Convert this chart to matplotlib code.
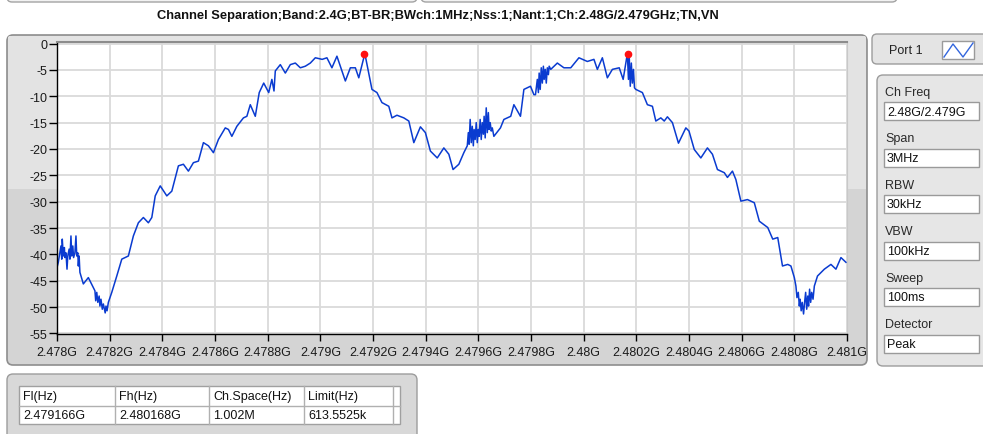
import numpy as np
import matplotlib.pyplot as plt
from matplotlib.patches import FancyBboxPatch, Rectangle

plt.rcParams['font.family'] = ['Liberation Sans', 'DejaVu Sans']

TITLE = "Channel Separation;Band:2.4G;BT-BR;BWch:1MHz;Nss:1;Nant:1;Ch:2.48G/2.479GHz;TN,VN"

# trace: offset from 2.478 GHz (MHz) and level (dB)
F_START_GHZ = 2.478
offset_mhz = [
    0.000, 0.005, 0.011, 0.015, 0.018, 0.020, 0.024, 0.028, 0.030, 0.034,
    0.038, 0.041, 0.046, 0.049, 0.053, 0.056, 0.060, 0.063, 0.068, 0.072,
    0.075, 0.079, 0.081, 0.084, 0.087, 0.100, 0.119, 0.138, 0.144, 0.147,
    0.151, 0.155, 0.160, 0.163, 0.167, 0.172, 0.176, 0.183, 0.186, 0.190,
    0.195, 0.208, 0.227, 0.246, 0.271, 0.290, 0.309, 0.328, 0.347, 0.360,
    0.373, 0.392, 0.417, 0.436, 0.461, 0.480, 0.499, 0.518, 0.537, 0.556,
    0.575, 0.594, 0.613, 0.639, 0.651, 0.664, 0.683, 0.708, 0.721, 0.734,
    0.753, 0.768, 0.785, 0.804, 0.816, 0.824, 0.829, 0.848, 0.867, 0.886,
    0.905, 0.924, 0.943, 0.962, 0.981, 1.007, 1.025, 1.044, 1.063, 1.095,
    1.114, 1.133, 1.146, 1.169,
    1.196, 1.215, 1.234, 1.260, 1.272, 1.291, 1.317, 1.336, 1.355, 1.380,
    1.399, 1.418, 1.444, 1.469, 1.488, 1.504, 1.526, 1.545, 1.558, 1.562,
    1.565, 1.569, 1.573, 1.577, 1.581, 1.584, 1.588, 1.592, 1.596, 1.600,
    1.603, 1.607, 1.611, 1.615, 1.619, 1.622, 1.626, 1.630, 1.634, 1.638,
    1.641, 1.645, 1.649, 1.653, 1.659, 1.684, 1.697, 1.723, 1.735, 1.760,
    1.773, 1.798, 1.811, 1.817, 1.824, 1.828, 1.831, 1.835, 1.839, 1.843,
    1.847, 1.850, 1.854, 1.858, 1.862, 1.866, 1.869, 1.875, 1.900, 1.925,
    1.951, 1.982, 2.014, 2.039, 2.052, 2.071, 2.090, 2.109, 2.135, 2.150,
    2.166, 2.170, 2.173, 2.177, 2.181, 2.185, 2.189, 2.193, 2.198, 2.223,
    2.242, 2.261, 2.274, 2.293,
    2.306, 2.318, 2.337, 2.360, 2.388, 2.400, 2.420, 2.445, 2.470, 2.489,
    2.508, 2.534, 2.546, 2.565, 2.578, 2.597, 2.622, 2.648, 2.667, 2.699,
    2.718, 2.737, 2.755, 2.775, 2.787, 2.800, 2.806, 2.810, 2.815, 2.819,
    2.822, 2.826, 2.830, 2.835, 2.839, 2.843, 2.847, 2.851, 2.854, 2.858,
    2.862, 2.866, 2.871, 2.876, 2.888, 2.914, 2.939, 2.958, 2.977, 2.996,
]
level_db = [
    -42.5, -41.5, -39.7, -38.4, -40.9, -37.1, -40.3, -38.7, -40.6, -39.7,
    -42.8, -40.3, -39.0, -40.9, -36.5, -40.3, -38.4, -40.6, -39.7, -36.5,
    -40.3, -39.7, -42.2, -40.3, -43.4, -45.6, -44.4, -46.3, -46.9, -48.8,
    -47.2, -49.1, -47.9, -49.8, -48.5, -50.4, -49.4, -51.1, -49.8, -50.7,
    -49.1, -47.2, -44.1, -40.9, -40.3, -36.5, -34.0, -33.0, -34.0, -33.0,
    -28.9, -27.0, -28.9, -28.0, -23.2, -22.9, -24.2, -22.6, -22.3, -18.8,
    -19.4, -20.7, -18.2, -16.0, -16.3, -17.6, -15.7, -14.1, -13.8, -11.6,
    -13.8, -9.3, -7.5, -9.3, -6.8, -9.0, -5.2, -4.0, -5.6, -4.0,
    -3.7, -4.6, -4.3, -3.7, -2.7, -3.0, -2.7, -4.6, -2.4, -7.1,
    -4.6, -4.6, -6.5, -1.9,
    -8.7, -9.3, -11.2, -11.9, -14.1, -13.6, -14.1, -14.7, -18.8, -15.8,
    -16.9, -20.4, -21.7, -19.8, -21.0, -23.9, -22.9, -20.7, -19.4, -16.9,
    -19.1, -14.4, -18.8, -15.7, -19.4, -16.3, -18.2, -15.0, -18.8, -16.3,
    -17.6, -14.4, -18.2, -15.0, -17.2, -13.8, -17.9, -12.2, -16.9, -13.1,
    -16.3, -15.0, -16.6, -16.0, -17.6, -16.0, -14.4, -13.8, -11.6, -13.8,
    -8.7, -8.1, -9.7, -9.7, -6.8, -9.3, -5.6, -8.7, -4.6, -7.5,
    -4.3, -6.8, -4.9, -7.5, -4.6, -5.9, -4.3, -4.9, -3.7, -4.6,
    -4.6, -2.7, -3.4, -3.0, -4.9, -2.7, -6.5, -4.9, -4.6, -6.8,
    -1.9, -6.8, -2.4, -8.1, -3.7, -7.5, -4.9, -8.4, -8.7, -9.3,
    -11.6, -11.9, -14.7, -14.1,
    -14.7, -13.9, -15.0, -18.9, -16.0, -16.6, -20.1, -21.7, -19.8, -21.0,
    -23.9, -24.5, -25.4, -24.2, -25.8, -29.9, -29.6, -30.2, -33.7, -34.9,
    -37.1, -36.8, -42.2, -41.9, -42.2, -44.4, -46.0, -48.2, -47.2, -49.8,
    -48.5, -50.7, -49.1, -51.3, -49.1, -47.2, -50.4, -47.9, -49.8, -46.6,
    -49.1, -47.2, -48.5, -46.0, -44.1, -42.8, -41.9, -42.8, -40.6, -41.5,
]
peak_ghz = [2.479166, 2.480168]
peak_db = [-1.9, -1.9]

param_labels = ["Ch Freq", "Span", "RBW", "VBW", "Sweep", "Detector"]
param_values = ["2.48G/2.479G", "3MHz", "30kHz", "100kHz", "100ms", "Peak"]
table_headers = ["Fl(Hz)", "Fh(Hz)", "Ch.Space(Hz)", "Limit(Hz)"]
table_values = ["2.479166G", "2.480168G", "1.002M", "613.5525k"]

W, H = 983, 435
fig = plt.figure(figsize=(W / 100, H / 100), dpi=100)
fig.patch.set_facecolor('white')

# background layer in pixel coordinates for the instrument panels
bg = fig.add_axes([0, 0, 1, 1], zorder=0)
bg.set_xlim(0, W)
bg.set_ylim(H, 0)
bg.axis('off')


def panel(x0, y0, x1, y1, fc, ec='#a3a3a3', r=5, lw=1.0):
    p = FancyBboxPatch((x0, y0), x1 - x0, y1 - y0,
                       boxstyle=f"round,pad=0,rounding_size={r}",
                       fc=fc, ec=ec, lw=lw)
    bg.add_patch(p)
    return p


# remnants of the panels above
panel(7, -20, 417, 3, '#f2f2f2')
panel(421, -20, 897, 3, '#f2f2f2')

bg.text(438, 16, TITLE, ha='center', va='center', fontsize=9.3,
        fontweight='bold', color='#111111')

# graph panel with two-tone shading
gp = panel(7, 36, 867, 366, '#d4d4d4', ec='#8e8e8e', r=6, lw=1.2)
upper = Rectangle((8, 37), 858, 153, fc='#e3e3e3', ec='none')
bg.add_patch(upper)
upper.set_clip_path(gp)

# port tab
panel(872, 35, 995, 65, '#e4e4e4', ec='#9c9c9c', r=5)
bg.text(889, 51, "Port 1", ha='left', va='center', fontsize=9, color='#222222')
bg.add_patch(Rectangle((942, 42), 32, 18, fc='white', ec='#9a9a9a', lw=1))
bg.plot([944, 953, 963, 973], [58, 45, 58, 44], color='#3366dd', lw=1)

# parameter panel
panel(877, 76, 995, 367, '#e6e6e6', ec='#9c9c9c', r=6)
for i, (lab, val) in enumerate(zip(param_labels, param_values)):
    y0 = 93 + 46.5 * i
    bg.text(885, y0, lab, ha='left', va='center', fontsize=9, color='#2a2a2a')
    bg.add_patch(Rectangle((884, y0 + 10), 95, 18, fc='white', ec='#9a9a9a', lw=1))
    bg.text(887, y0 + 19.5, val, ha='left', va='center', fontsize=9, color='#111111')

# result table panel
panel(7, 375, 417, 450, '#d8d8d8', ec='#9c9c9c', r=6)
bg.add_patch(Rectangle((19, 387), 381, 38, fc='white', ec='#a0a0a0', lw=1))
bg.plot([19, 400], [407, 407], color='#b0b0b0', lw=1)
col_x = [19, 115, 209, 304]
for x in col_x[1:] + [393]:
    bg.plot([x, x], [387, 425], color='#b0b0b0', lw=1)
for x, hdr, val in zip(col_x, table_headers, table_values):
    bg.text(x + 4, 397, hdr, ha='left', va='center', fontsize=9, color='#111111')
    bg.text(x + 4, 416, val, ha='left', va='center', fontsize=9, color='#111111')

# spectrum plot
ax = fig.add_axes([57 / W, 1 - 335 / H, (847 - 57) / W, (335 - 42.7) / H], zorder=2)
ax.set_facecolor('white')
freq_ghz = F_START_GHZ + np.array(offset_mhz) / 1000.0
ax.plot(freq_ghz, level_db, color='#0a3bd0', lw=1.1)
ax.plot(peak_ghz, peak_db, 'o', color='#ff1010', ms=4.5, zorder=3)

ax.set_xlim(2.478, 2.481)
ax.set_ylim(-55.1, 0.35)
xt = F_START_GHZ + np.arange(16) * 0.0002
ax.set_xticks(xt)
ax.set_xticklabels([f"{round(v, 4):g}G" for v in xt])
yt = np.arange(0, -56, -5)
ax.set_yticks(yt)
ax.set_yticklabels([str(v) for v in yt])
ax.grid(True, color='#dadada', lw=1.3)
ax.set_axisbelow(True)
for side in ['left', 'bottom']:
    ax.spines[side].set_color('black')
    ax.spines[side].set_linewidth(1)
ax.spines['top'].set_color('#8c8c8c')
ax.spines['top'].set_linewidth(1.5)
ax.spines['right'].set_color('#c8c8c8')
ax.tick_params(axis='y', direction='out', length=6, width=1, pad=1,
               labelsize=9, labelcolor='#1a1a1a')
ax.tick_params(axis='x', direction='out', length=5, width=1, pad=4,
               labelsize=9, labelcolor='#1a1a1a')

fig.savefig('out.png', dpi=100)
